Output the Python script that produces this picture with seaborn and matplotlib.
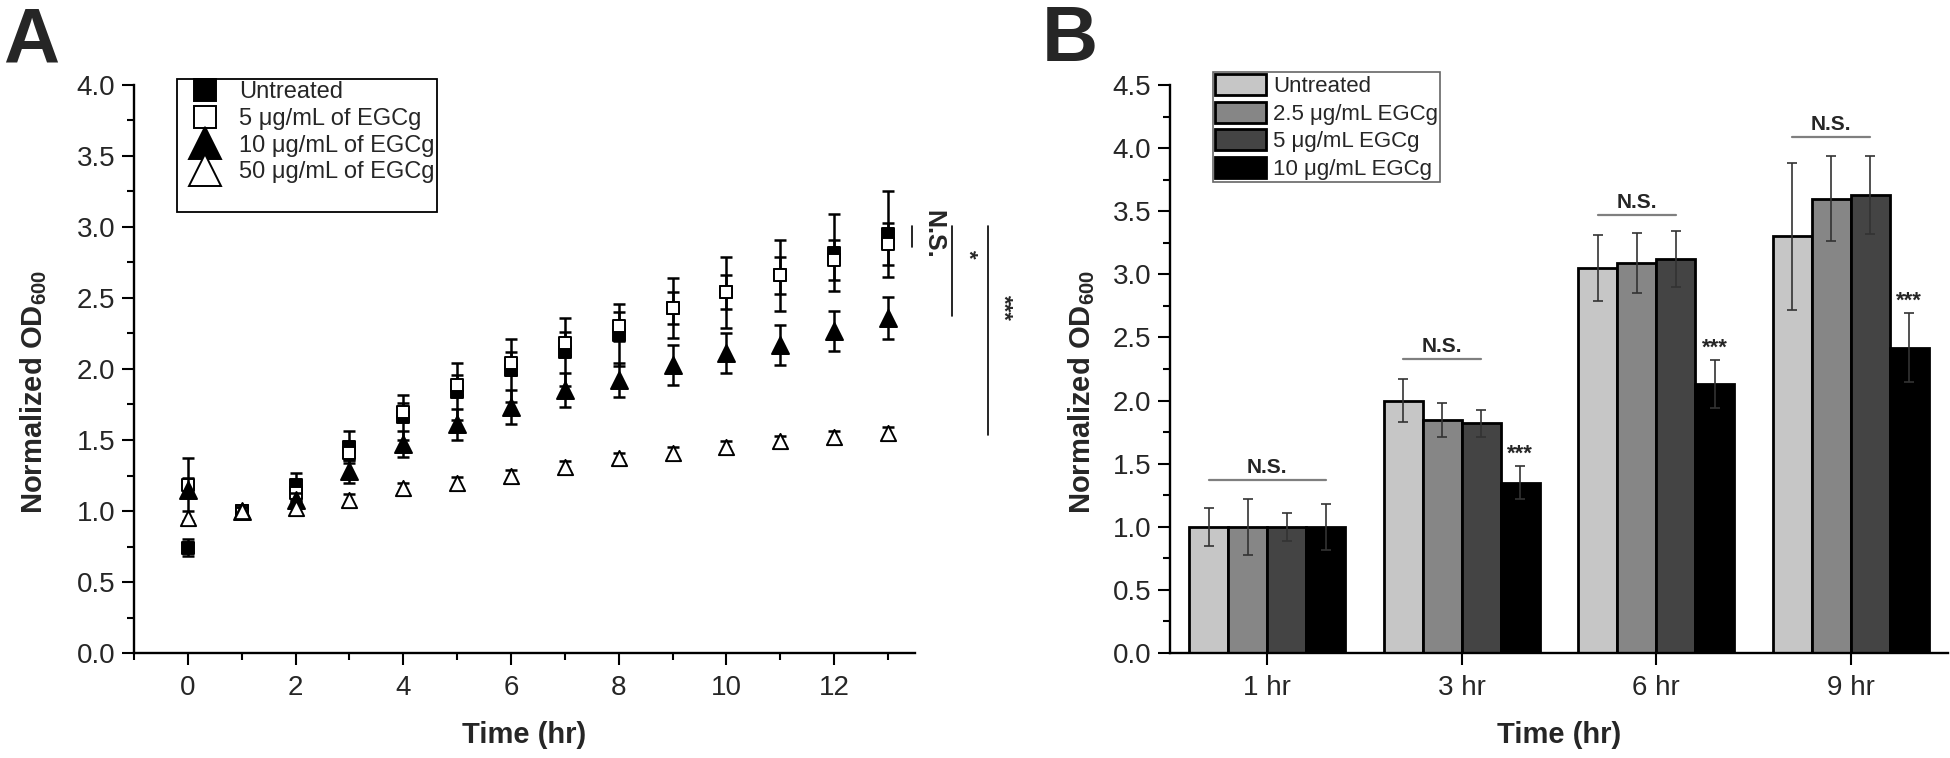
import numpy as np
import pandas as pd
import seaborn as sns
import matplotlib.pyplot as plt
from matplotlib.lines import Line2D
from matplotlib.patches import Patch
from matplotlib.ticker import MultipleLocator, FormatStrFormatter

# ---- Panel A: growth curves ----
time_hr = list(range(14))
untreated = [0.74, 1.00, 1.18, 1.45, 1.66, 1.84, 1.99, 2.12, 2.24, 2.43, 2.54, 2.66, 2.82, 2.95]
untreated_sd = [0.06, 0.04, 0.09, 0.11, 0.16, 0.20, 0.22, 0.24, 0.22, 0.21, 0.25, 0.25, 0.27, 0.30]
egcg_5 = [1.18, 1.00, 1.13, 1.41, 1.70, 1.89, 2.04, 2.18, 2.30, 2.43, 2.54, 2.66, 2.77, 2.88]
egcg_5_sd = [0.05, 0.03, 0.05, 0.05, 0.06, 0.07, 0.08, 0.08, 0.10, 0.11, 0.12, 0.13, 0.14, 0.15]
egcg_10 = [1.15, 1.00, 1.08, 1.28, 1.47, 1.61, 1.73, 1.85, 1.92, 2.03, 2.11, 2.17, 2.27, 2.36]
egcg_10_sd = [0.22, 0.03, 0.05, 0.08, 0.09, 0.11, 0.12, 0.12, 0.12, 0.14, 0.14, 0.14, 0.14, 0.15]
egcg_50 = [0.95, 1.00, 1.02, 1.08, 1.16, 1.20, 1.25, 1.31, 1.37, 1.41, 1.45, 1.49, 1.52, 1.55]
egcg_50_sd = [0.05, 0.03, 0.05, 0.04, 0.04, 0.04, 0.04, 0.04, 0.04, 0.04, 0.04, 0.04, 0.04, 0.04]
a_labels = ['Untreated', '5 μg/mL of EGCg', '10 μg/mL of EGCg', '50 μg/mL of EGCg']

# ---- Panel B: bars ----
time_labels = ['1 hr', '3 hr', '6 hr', '9 hr']
b_labels = ['Untreated', '2.5 μg/mL EGCg', '5 μg/mL EGCg', '10 μg/mL EGCg']
b_untreated = [1.00, 2.00, 3.05, 3.30]
b_untreated_sd = [0.15, 0.17, 0.265, 0.58]
b_egcg_2_5 = [1.00, 1.845, 3.09, 3.60]
b_egcg_2_5_sd = [0.22, 0.135, 0.235, 0.335]
b_egcg_5 = [1.00, 1.82, 3.12, 3.63]
b_egcg_5_sd = [0.11, 0.105, 0.22, 0.31]
b_egcg_10 = [1.00, 1.35, 2.13, 2.42]
b_egcg_10_sd = [0.18, 0.13, 0.19, 0.27]
bar_colors = ['#c6c6c6', '#868686', '#444444', '#000000']
ns_y = [1.37, 2.33, 3.47, 4.09]
ns_last_bar = [3, 2, 2, 2]

sns.set_style('ticks')
plt.rcParams['font.family'] = ['Liberation Sans', 'DejaVu Sans']
plt.rcParams['mathtext.fontset'] = 'custom'
plt.rcParams['mathtext.bf'] = 'Liberation Sans:bold'
plt.rcParams['mathtext.rm'] = 'Liberation Sans'

fig = plt.figure(figsize=(19.5, 7.58), dpi=100)
axA = fig.add_axes([0.0687, 0.1385, 0.4005, 0.7494])
axB = fig.add_axes([0.6, 0.1385, 0.399, 0.7494])

tick_font = 20
label_font = 21


def style_axes(ax):
    for side in ['top', 'right']:
        ax.spines[side].set_visible(False)
    for side in ['left', 'bottom']:
        ax.spines[side].set_linewidth(1.7)
        ax.spines[side].set_color('black')
    ax.tick_params(which='major', direction='out', length=8.5, width=1.5,
                   labelsize=tick_font, color='black')
    ax.tick_params(which='minor', direction='out', length=5, width=1.5, color='black')
    ax.tick_params(axis='x', pad=7)
    ax.tick_params(axis='y', pad=5)


# ---- draw A ----
series = [
    (untreated, untreated_sd, 's', 'black', 64),
    (egcg_5, egcg_5_sd, 's', 'white', 64),
    (egcg_10, egcg_10_sd, '^', 'black', 150),
    (egcg_50, egcg_50_sd, '^', 'white', 120),
]
for i, (vals, sd, mk, fc, size) in enumerate(series):
    axA.errorbar(time_hr, vals, yerr=sd, fmt='none', ecolor='black',
                 elinewidth=1.8, capsize=4.3, capthick=1.8, zorder=2 + i * 2)
    sns.scatterplot(x=time_hr, y=vals, marker=mk, s=size, color=fc,
                    edgecolor='black', linewidth=1.4, ax=axA, zorder=3 + i * 2)

axA.set_xlim(-1, 13.5)
axA.set_ylim(0, 4)
axA.xaxis.set_major_locator(MultipleLocator(2))
axA.xaxis.set_minor_locator(MultipleLocator(1))
axA.yaxis.set_major_locator(MultipleLocator(0.5))
axA.yaxis.set_minor_locator(MultipleLocator(0.25))
axA.yaxis.set_major_formatter(FormatStrFormatter('%.1f'))
style_axes(axA)
axA.set_xlabel('Time (hr)', fontsize=label_font, fontweight='bold')
axA.set_ylabel(r'Normalized OD$_{\mathbf{600}}$', fontsize=label_font, fontweight='bold')
axA.xaxis.set_label_coords(0.5, -0.12)
axA.yaxis.set_label_coords(-0.109, 0.46)

handles = [
    Line2D([], [], ls='none', marker='s', ms=16.5, mfc='black', mec='black', mew=1.4),
    Line2D([], [], ls='none', marker='s', ms=16.5, mfc='white', mec='black', mew=1.4),
    Line2D([], [], ls='none', marker='^', ms=23, mfc='black', mec='black', mew=1.4),
    Line2D([], [], ls='none', marker='^', ms=23, mfc='white', mec='black', mew=1.4),
    Line2D([], [], ls='none'),
]
legA = axA.legend(handles, a_labels + [' '], loc='upper left', bbox_to_anchor=(0.055, 1.011),
                  borderaxespad=0, fontsize=17, frameon=True, fancybox=False,
                  edgecolor='black', framealpha=1, borderpad=0.1, handlelength=2.17,
                  handletextpad=0.36, labelspacing=0.2)
legA.get_frame().set_linewidth(1.3)

# significance marks right of panel A
sig_lines = [(13.45, 2.86, 3.007), (14.18, 2.373, 3.007), (14.85, 1.535, 3.007)]
for x, y0, y1 in sig_lines:
    axA.plot([x, x], [y0, y1], color='black', lw=1.2, clip_on=False)
axA.text(13.84, 2.95, 'N.S.', rotation=-90, ha='center', va='center',
         fontsize=18, fontweight='bold', clip_on=False)
axA.text(14.49, 2.81, '*', rotation=-90, ha='center', va='center',
         fontsize=16, fontweight='bold', clip_on=False)
axA.text(15.13, 2.43, '***', rotation=-90, ha='center', va='center',
         fontsize=16, fontweight='bold', clip_on=False)

# ---- draw B ----
b_vals = [b_untreated, b_egcg_2_5, b_egcg_5, b_egcg_10]
b_sds = [b_untreated_sd, b_egcg_2_5_sd, b_egcg_5_sd, b_egcg_10_sd]
dfB = pd.DataFrame({
    'time': time_labels * 4,
    'od': sum(b_vals, []),
    'treatment': [lab for lab in b_labels for _ in time_labels],
})
sns.barplot(data=dfB, x='time', y='od', hue='treatment', order=time_labels,
            hue_order=b_labels, palette=bar_colors, edgecolor='black', linewidth=2,
            width=0.8, errorbar=None, legend=False, ax=axB, zorder=2)

centers = []
tops = []
for cont, sd in zip(axB.containers, b_sds):
    xs = [bar.get_x() + bar.get_width() / 2 for bar in cont]
    hs = [bar.get_height() for bar in cont]
    axB.errorbar(xs, hs, yerr=sd, fmt='none', ecolor='#333333', elinewidth=1.2,
                 capsize=3.6, capthick=1.2, zorder=4)
    centers.append(xs)
    tops.append([h + s for h, s in zip(hs, sd)])

for g in range(len(time_labels)):
    x0 = centers[0][g]
    x1 = centers[ns_last_bar[g]][g]
    axB.plot([x0, x1], [ns_y[g], ns_y[g]], color='#7f7f7f', lw=1.6, zorder=5)
    axB.text((x0 + x1) / 2, ns_y[g] + 0.055, 'N.S.', ha='center', va='baseline',
             fontsize=15, fontweight='bold')
    if g > 0:
        axB.text(centers[3][g], tops[3][g] + 0.05, '***', ha='center', va='baseline',
                 fontsize=16, fontweight='bold')

axB.set_xlim(-0.5, 3.5)
axB.set_ylim(0, 4.5)
axB.yaxis.set_major_locator(MultipleLocator(0.5))
axB.yaxis.set_minor_locator(MultipleLocator(0.25))
axB.yaxis.set_major_formatter(FormatStrFormatter('%.1f'))
style_axes(axB)
axB.set_xlabel('Time (hr)', fontsize=label_font, fontweight='bold')
axB.set_ylabel(r'Normalized OD$_{\mathbf{600}}$', fontsize=label_font, fontweight='bold')
axB.xaxis.set_label_coords(0.5, -0.12)
axB.yaxis.set_label_coords(-0.094, 0.46)

b_handles = [Patch(facecolor=c, edgecolor='black', linewidth=2) for c in bar_colors]
legB = axB.legend(b_handles, b_labels, loc='upper left', bbox_to_anchor=(0.055, 1.023),
                  borderaxespad=0, fontsize=16, frameon=True, fancybox=False,
                  edgecolor='#666666', framealpha=1, borderpad=0.1, handlelength=2.3,
                  handleheight=1.08, handletextpad=0.3, labelspacing=0.2)
legB.get_frame().set_linewidth(1.2)

fig.text(0.0015, 1 - 63 / 758, 'A', fontsize=56, fontweight='bold', va='baseline')
fig.text(0.534, 1 - 61 / 758, 'B', fontsize=56, fontweight='bold', va='baseline')

fig.savefig('out.png', dpi=100)
